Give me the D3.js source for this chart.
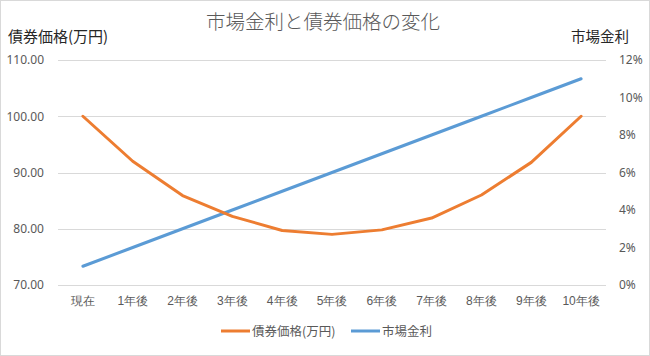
<!DOCTYPE html>
<html>
<head>
<meta charset="utf-8">
<script src="https://cdn.jsdelivr.net/npm/d3@7"></script>
<style>
html,body{margin:0;padding:0;background:#fff;}
svg{display:block;font-family:"Noto Sans CJK JP","Noto Sans",sans-serif;}
</style>
</head>
<body>
<svg id="chart" width="650" height="356"></svg>
<script>
const categories = ["現在","1年後","2年後","3年後","4年後","5年後","6年後","7年後","8年後","9年後","10年後"];
const bondPrice = [100, 92.0, 85.9, 82.2, 79.7, 79.0, 79.8, 81.9, 86.0, 91.8, 100];
const marketRate = [0.01, 0.02, 0.03, 0.04, 0.05, 0.06, 0.07, 0.08, 0.09, 0.10, 0.11];
const leftTicks = [70, 80, 90, 100, 110];
const rightTicks = [0, 0.02, 0.04, 0.06, 0.08, 0.10, 0.12];
const seriesNames = ["債券価格(万円)", "市場金利"];
const titleText = "市場金利と債券価格の変化";

const W = 650, H = 356;
const plot = {left: 58, right: 606, top: 60, bottom: 285};
const svg = d3.select("#chart");
const orange = "#ED7D31", blue = "#5B9BD5", gray = "#595959", grid = "#d9d9d9";

svg.append("rect").attr("x",0.5).attr("y",0.5).attr("width",W-1).attr("height",H-1)
  .attr("fill","#fff").attr("stroke","#d9d9d9");

const x = d3.scaleBand().domain(categories).range([plot.left, plot.right]);
const yL = d3.scaleLinear().domain([70,110]).range([plot.bottom, plot.top]);
const yR = d3.scaleLinear().domain([0,0.12]).range([plot.bottom, plot.top]);

// gridlines
svg.append("g").selectAll("line").data(leftTicks).join("line")
  .attr("x1", plot.left).attr("x2", plot.right)
  .attr("y1", d => Math.round(yL(d))+0.5).attr("y2", d => Math.round(yL(d))+0.5)
  .attr("stroke", grid).attr("stroke-width", 1);

// left axis
const axL = d3.axisLeft(yL).tickValues(leftTicks).tickFormat(d3.format(".2f")).tickSize(0).tickPadding(14);
const gL = svg.append("g").attr("transform", `translate(${plot.left},0)`).call(axL);
gL.select(".domain").remove();
gL.selectAll("text").attr("fill", gray).style("font-size","12px").style("font-family","'Noto Sans','Noto Sans CJK JP',sans-serif");

// right axis
const axR = d3.axisRight(yR).tickValues(rightTicks).tickFormat(d3.format(".0%")).tickSize(0).tickPadding(13);
const gR = svg.append("g").attr("transform", `translate(${plot.right},0)`).call(axR);
gR.select(".domain").remove();
gR.selectAll("text").attr("fill", gray).style("font-size","12px").style("font-family","'Noto Sans','Noto Sans CJK JP',sans-serif");

// bottom axis
const axB = d3.axisBottom(x).tickSize(0).tickPadding(11);
const gB = svg.append("g").attr("transform", `translate(0,${plot.bottom})`).call(axB);
gB.select(".domain").remove();
gB.selectAll("text").attr("fill", gray).style("font-size","12px");

// lines
const cx = d => x(d) + x.bandwidth()/2;
const lineL = d3.line().x((d,i) => cx(categories[i])).y(d => yL(d));
const lineR = d3.line().x((d,i) => cx(categories[i])).y(d => yR(d));
svg.append("path").datum(marketRate).attr("d", lineR).attr("fill","none")
  .attr("stroke", blue).attr("stroke-width", 3).attr("stroke-linejoin","round").attr("stroke-linecap","round");
svg.append("path").datum(bondPrice).attr("d", lineL).attr("fill","none")
  .attr("stroke", orange).attr("stroke-width", 3).attr("stroke-linejoin","round").attr("stroke-linecap","round");

// title
svg.append("text").attr("x", 323).attr("y", 29).attr("text-anchor","middle")
  .attr("fill", gray).style("font-size","19.5px").style("font-weight","300").text(titleText);

// axis titles
svg.append("text").attr("x", 8).attr("y", 42).attr("fill","#262626")
  .style("font-size","15px").text(seriesNames[0]);
svg.append("text").attr("x", 629).attr("y", 42).attr("text-anchor","end").attr("fill","#262626")
  .style("font-size","14.5px").text(seriesNames[1]);

// legend
const legend = [
  {name: seriesNames[0], color: orange, x: 221},
  {name: seriesNames[1], color: blue, x: 351}
];
const lg = svg.append("g").selectAll("g").data(legend).join("g")
  .attr("transform", d => `translate(${d.x},331)`);
lg.append("line").attr("x1",0).attr("x2",29).attr("y1",0).attr("y2",0)
  .attr("stroke", d => d.color).attr("stroke-width",3);
lg.append("text").attr("x",31).attr("y",4.5).attr("fill",gray)
  .style("font-size","12.5px").text(d => d.name);
</script>
</body>
</html>
